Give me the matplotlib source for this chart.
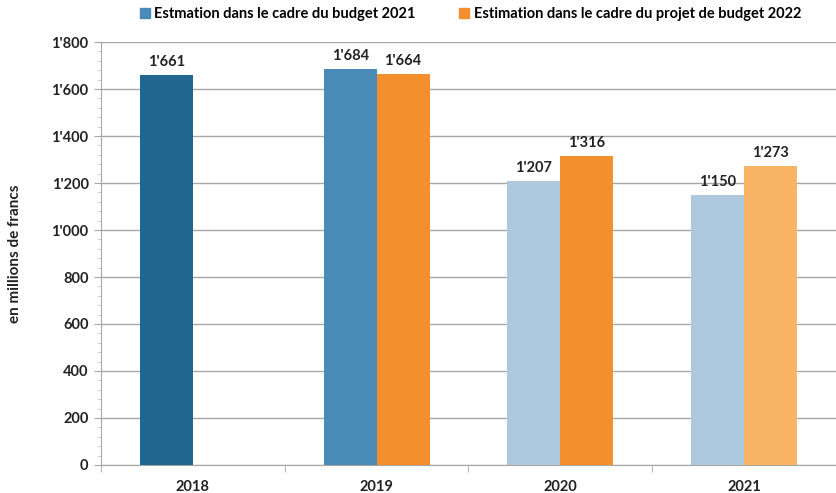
import matplotlib
matplotlib.use("Agg")
import matplotlib.pyplot as plt
from matplotlib.patches import Patch
from matplotlib.ticker import MultipleLocator, FuncFormatter
import numpy as np

years = ["2018", "2019", "2020", "2021"]
budget_2021 = [1661, 1684, 1207, 1150]
projet_2022 = [None, 1664, 1316, 1273]

legend_labels = ["Estmation dans le cadre du budget 2021",
                 "Estimation dans le cadre du projet de budget 2022"]

# each bar gets its own shade, as in the printed report
blue_shades = ["#21668F", "#4A8AB6", "#ADC8DC", "#ADC8DC"]
orange_shades = [None, "#F48F2E", "#F48F2E", "#F9B466"]

plt.rcParams["font.family"] = ["Lato", "DejaVu Sans"]
plt.rcParams["font.weight"] = "bold"

FS = 10.5


def fmt(v):
    return f"{int(v):,}".replace(",", "'")


fig = plt.figure(figsize=(8.37, 4.93), dpi=100)
ax = fig.add_axes([0.1207, 0.0568, 0.878, 0.858])

x = np.arange(len(years))
w = 0.288

for i in range(len(years)):
    b = budget_2021[i]
    ax.bar(x[i] - w / 2, b, w, color=blue_shades[i], zorder=3)
    ax.text(x[i] - w / 2, b + 25, fmt(b), ha="center", va="bottom",
            fontsize=FS, fontweight="bold", color="#222222")
    p = projet_2022[i]
    if p is not None:
        ax.bar(x[i] + w / 2, p, w, color=orange_shades[i], zorder=3)
        ax.text(x[i] + w / 2, p + 25, fmt(p), ha="center", va="bottom",
                fontsize=FS, fontweight="bold", color="#222222")

ax.set_xlim(-0.5, len(years) - 0.5)
ax.set_ylim(0, 1800)

ax.yaxis.set_major_locator(MultipleLocator(200))
ax.yaxis.set_minor_locator(MultipleLocator(40))
ax.yaxis.set_major_formatter(FuncFormatter(lambda v, _: fmt(v)))
ax.grid(axis="y", color="#A6A6A6", linewidth=1, zorder=0)

# category labels in the middle, tick marks on the boundaries
ax.set_xticks(x)
ax.set_xticklabels(years)
ax.set_xticks(np.arange(-0.5, len(years)), minor=True)
ax.tick_params(axis="x", which="major", length=0, pad=11)
ax.tick_params(axis="x", which="minor", length=5, color="#A6A6A6")
ax.tick_params(axis="y", which="major", length=5, color="#A6A6A6", pad=4)
ax.tick_params(axis="y", which="minor", length=3, color="#C8C8C8")
ax.tick_params(labelsize=FS, labelcolor="#222222")
for lab in ax.get_xticklabels() + ax.get_yticklabels():
    lab.set_fontweight("bold")

for side in ["top", "right"]:
    ax.spines[side].set_visible(False)
for side in ["left", "bottom"]:
    ax.spines[side].set_color("#A6A6A6")

ax.set_ylabel("en millions de francs", fontsize=11, fontweight="bold",
              color="#222222")
ax.yaxis.set_label_coords(-0.107, 0.5)

handles = [Patch(color="#4A8AB6"), Patch(color="#F48F2E")]
fig.legend(handles, legend_labels, loc="center", bbox_to_anchor=(0.562, 0.972),
           ncol=2, frameon=False, fontsize=FS, handlelength=0.7,
           handleheight=0.7, handletextpad=0.3, columnspacing=3.0)

fig.savefig("out.png", dpi=100)
